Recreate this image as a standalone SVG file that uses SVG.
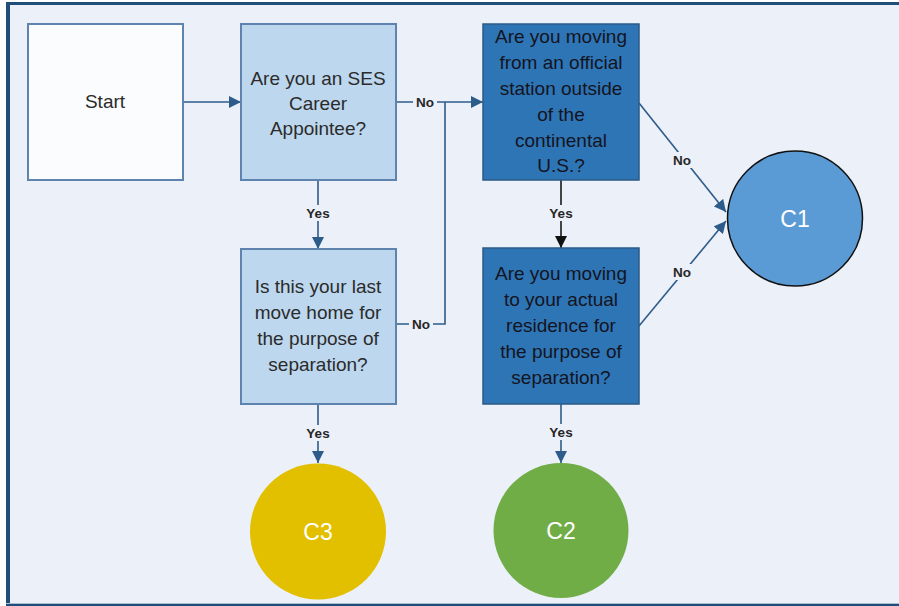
<svg xmlns="http://www.w3.org/2000/svg" width="899" height="606" viewBox="0 0 899 606">
<defs>
<style>
.t{font-family:"Liberation Sans",Arial,sans-serif;font-size:19px;text-anchor:middle;}
.lt{fill:#2b2b2b;}
.dt{fill:#14141e;}
.lbl{font-family:"Liberation Sans",Arial,sans-serif;font-size:13.5px;font-weight:bold;text-anchor:middle;fill:#262626;}
.lb{fill:#EBF0F9;}
.c{fill:none;stroke:#2E5C8A;stroke-width:1.6;}
.ck{fill:none;stroke:#1a1a1a;stroke-width:1.6;}
.light{fill:#BDD7EE;stroke:#5E83AE;stroke-width:2;}
.dark{fill:#2E75B6;stroke:#2D5A86;stroke-width:1.5;}
.ct{font-family:"Liberation Sans",Arial,sans-serif;font-size:23px;text-anchor:middle;fill:#ffffff;}
</style>
<marker id="ah" viewBox="0 0 10 10" refX="10" refY="5" markerWidth="12" markerHeight="12" markerUnits="userSpaceOnUse" orient="auto">
<path d="M0,0 L10,5 L0,10 z" fill="#2E5C8A"/>
</marker>
<marker id="ahk" viewBox="0 0 10 10" refX="10" refY="5" markerWidth="12" markerHeight="12" markerUnits="userSpaceOnUse" orient="auto">
<path d="M0,0 L10,5 L0,10 z" fill="#111111"/>
</marker>
</defs>
<rect x="0" y="0" width="899" height="606" fill="#ffffff"/>
<rect x="6" y="2" width="893" height="604" fill="#EBF0F9"/>
<rect x="6" y="2" width="893" height="3" fill="#1F4E79"/>
<rect x="6" y="2" width="4" height="604" fill="#1F4E79"/>
<rect x="6" y="603" width="893" height="1" fill="#A9BCD3"/>
<rect x="6" y="604" width="893" height="2" fill="#1F4E79"/>

<g id="connectors">
<line class="c" x1="183" y1="102" x2="241" y2="102" marker-end="url(#ah)"/>
<line class="c" x1="318" y1="180" x2="318" y2="249" marker-end="url(#ah)"/>
<line class="c" x1="396" y1="102" x2="483" y2="102" marker-end="url(#ah)"/>
<polyline class="c" points="396,324 445,324 445,102"/>
<line class="ck" x1="561" y1="180" x2="561" y2="248" marker-end="url(#ahk)"/>
<line class="c" x1="639" y1="103" x2="726" y2="212" marker-end="url(#ah)"/>
<line class="c" x1="639" y1="326" x2="726" y2="221" marker-end="url(#ah)"/>
<line class="c" x1="318" y1="404" x2="318" y2="463" marker-end="url(#ah)"/>
<line class="c" x1="561" y1="404" x2="561" y2="463" marker-end="url(#ah)"/>
<rect class="lb" x="304" y="205" width="28" height="16"/>
<text class="lbl" x="318" y="218">Yes</text>
<rect class="lb" x="547" y="205" width="28" height="16"/>
<text class="lbl" x="561" y="218">Yes</text>
<rect class="lb" x="304" y="425" width="28" height="16"/>
<text class="lbl" x="318" y="438">Yes</text>
<rect class="lb" x="547" y="424" width="28" height="16"/>
<text class="lbl" x="561" y="437">Yes</text>
<rect class="lb" x="413" y="95" width="24" height="15"/>
<text class="lbl" x="425" y="107">No</text>
<rect class="lb" x="409" y="317" width="24" height="15"/>
<text class="lbl" x="421" y="329">No</text>
<rect class="lb" x="670" y="152" width="24" height="16"/>
<text class="lbl" x="682" y="165">No</text>
<rect class="lb" x="670" y="264" width="24" height="16"/>
<text class="lbl" x="682" y="277">No</text>
</g>

<g id="start">
<rect x="28" y="24" width="155" height="156" fill="#FBFCFE" stroke="#5E83AE" stroke-width="2"/>
<text class="t lt" x="105" y="108">Start</text>
</g>

<g id="q1">
<rect class="light" x="241" y="24" width="155" height="156"/>
<text class="t lt" x="318" y="85">Are you an SES</text>
<text class="t lt" x="318" y="110">Career</text>
<text class="t lt" x="318" y="135">Appointee?</text>
</g>

<g id="q2">
<rect class="light" x="241" y="249" width="155" height="155"/>
<text class="t lt" x="318" y="293">Is this your last</text>
<text class="t lt" x="318" y="319">move home for</text>
<text class="t lt" x="318" y="345">the purpose of</text>
<text class="t lt" x="318" y="371">separation?</text>
</g>

<g id="q3">
<rect class="dark" x="483" y="24" width="156" height="156"/>
<text class="t dt" x="561" y="43">Are you moving</text>
<text class="t dt" x="561" y="69">from an official</text>
<text class="t dt" x="561" y="95">station outside</text>
<text class="t dt" x="561" y="121">of the</text>
<text class="t dt" x="561" y="147">continental</text>
<text class="t dt" x="561" y="172">U.S.?</text>
</g>

<g id="q4">
<rect class="dark" x="483" y="248" width="156" height="156"/>
<text class="t dt" x="561" y="280">Are you moving</text>
<text class="t dt" x="561" y="306">to your actual</text>
<text class="t dt" x="561" y="332">residence for</text>
<text class="t dt" x="561" y="358">the purpose of</text>
<text class="t dt" x="561" y="384">separation?</text>
</g>

<g id="c1">
<circle cx="795" cy="218.5" r="67.5" fill="#5B9BD5" stroke="#111111" stroke-width="1.5"/>
<text class="ct" x="795" y="227">C1</text>
</g>

<g id="c3">
<circle cx="318" cy="531.5" r="68" fill="#E2C000"/>
<text class="ct" x="318" y="540">C3</text>
</g>

<g id="c2">
<circle cx="561" cy="530.5" r="67.5" fill="#70AD47"/>
<text class="ct" x="561" y="539">C2</text>
</g>
</svg>
